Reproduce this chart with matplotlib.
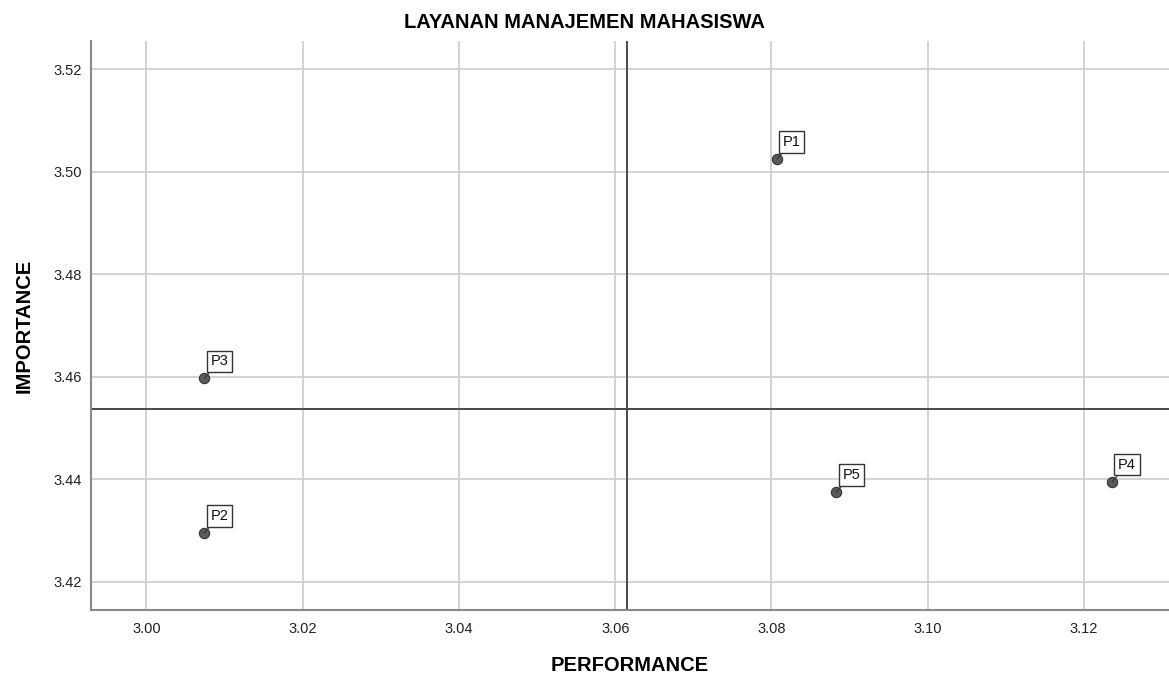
import matplotlib
matplotlib.use("Agg")
import matplotlib.pyplot as plt

labels = ["P1", "P2", "P3", "P4", "P5"]
performance = [3.0807, 3.0074, 3.0074, 3.1236, 3.0883]
importance = [3.5025, 3.4295, 3.4597, 3.4395, 3.4375]
mean_perf = sum(performance) / len(performance)
mean_imp = sum(importance) / len(importance)
xticks = [3.00, 3.02, 3.04, 3.06, 3.08, 3.10, 3.12]
yticks = [3.42, 3.44, 3.46, 3.48, 3.50, 3.52]

plt.rcParams['font.family'] = ['Liberation Sans', 'DejaVu Sans']

fig = plt.figure(figsize=(11.69, 6.78), dpi=100)
ax = fig.add_axes([0.0781, 0.1003, 0.9219, 0.8392])
ax.set_xlim(2.99294, 3.13088)
ax.set_ylim(3.41448, 3.52552)

ax.set_xticks(xticks)
ax.set_yticks(yticks)
ax.set_xticklabels([f"{v:.2f}" for v in xticks])
ax.set_yticklabels([f"{v:.2f}" for v in yticks])
ax.tick_params(length=0, labelsize=10.5, colors='#222222')
ax.tick_params(axis='x', pad=9)
ax.tick_params(axis='y', pad=7)
ax.grid(True, color='#cccccc', linewidth=1.2)
ax.set_axisbelow(True)

for s in ['top', 'right']:
    ax.spines[s].set_visible(False)
for s in ['left', 'bottom']:
    ax.spines[s].set_color('#8a8a8a')
    ax.spines[s].set_linewidth(1.5)

ax.axvline(mean_perf, color='#4a4a4a', linewidth=1.4, zorder=2)
ax.axhline(mean_imp, color='#4a4a4a', linewidth=1.4, zorder=2)

ax.scatter(performance, importance, s=55, color='#5a5a5a', edgecolor='#333333',
           linewidth=0.8, zorder=4)

for lab, x, y in zip(labels, performance, importance):
    ax.annotate(lab, xy=(x, y), xytext=(6, 10), textcoords='offset pixels',
                ha='left', va='bottom', fontsize=10.5, color='#111111',
                bbox=dict(boxstyle='square,pad=0.25', fc='white', ec='#333333', lw=1.0),
                arrowprops=dict(arrowstyle='-', color='#333333', lw=0.8,
                                shrinkA=0, shrinkB=0),
                zorder=5)

fig.text(0.5, 0.9668, "LAYANAN MANAJEMEN MAHASISWA", ha='center', va='center',
         fontsize=14.5, fontweight='bold')
ax.set_xlabel("PERFORMANCE", fontsize=14.5, fontweight='bold', labelpad=14)
ax.set_ylabel("IMPORTANCE", fontsize=14.5, fontweight='bold', labelpad=14)

fig.savefig("out.png", dpi=100)
